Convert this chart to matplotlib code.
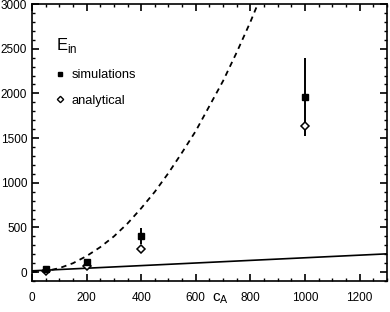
import numpy as np
import matplotlib as mpl
mpl.use('Agg')
import matplotlib.pyplot as plt
import matplotlib.ticker as ticker
from matplotlib.lines import Line2D

plt.rcParams['font.family'] = ['Liberation Sans', 'DejaVu Sans']

# simulation points with error bars
cA_pts = [50, 200, 400, 1000]
sim = [30, 115, 405, 1960]
sim_err = [12, 25, 90, 440]
analytical = [18, 65, 260, 1640]

# dashed curve
cA_curve = [0, 50, 100, 150, 200, 250, 300, 350, 400, 450, 500, 550, 600,
            650, 700, 750, 800, 850]
dashed = [0, 12, 45, 100, 180, 280, 400, 545, 715, 900, 1110, 1340, 1580,
          1860, 2140, 2460, 2800, 3170]

# solid line
cA_line = [0, 1300]
solid = [15, 205]

fig = plt.figure(figsize=(3.9, 3.12), dpi=100)
ax = fig.add_axes([0.082, 0.099, 0.910, 0.888])

ax.plot(cA_curve, dashed, color='black', lw=1.3, dashes=(3, 2.5))
ax.plot(cA_line, solid, color='black', lw=1.2)
ax.errorbar(cA_pts, sim, yerr=sim_err, fmt='s', color='black', ms=4,
            elinewidth=1.4, capsize=0)
ax.plot(cA_pts, analytical, 'D', mfc='white', mec='black', ms=3.6, mew=1.1)

ax.set_xlim(0, 1300)
ax.set_ylim(-100, 3000)
ax.xaxis.set_major_locator(ticker.MultipleLocator(200))
ax.xaxis.set_minor_locator(ticker.MultipleLocator(50))
ax.yaxis.set_major_locator(ticker.MultipleLocator(500))
ax.yaxis.set_minor_locator(ticker.MultipleLocator(100))
ax.tick_params(which='both', direction='in', top=True, right=True, labelsize=8.5)
ax.tick_params(which='major', length=5, width=1.2)
ax.tick_params(axis='x', which='major', pad=8)
ax.tick_params(which='minor', length=2.5, width=1.0)
for s in ax.spines.values():
    s.set_linewidth(1.2)

ax.set_xlabel('c$_\\mathregular{A}$', fontsize=11)
ax.xaxis.set_label_coords(0.53, -0.035)

handles = [Line2D([], [], marker='s', color='black', ls='none', ms=3.5),
           Line2D([], [], marker='D', mfc='white', mec='black', ls='none', ms=3.2, mew=1.0)]
leg = ax.legend(handles, ['simulations', 'analytical'], title='E$_\\mathregular{in}$',
                loc='upper left', bbox_to_anchor=(0.035, 0.925), frameon=False,
                fontsize=9.3, handlelength=0.6, handletextpad=0.6,
                labelspacing=1.05, alignment='left')
leg.get_title().set_fontsize(12)

plt.savefig('out.png')
